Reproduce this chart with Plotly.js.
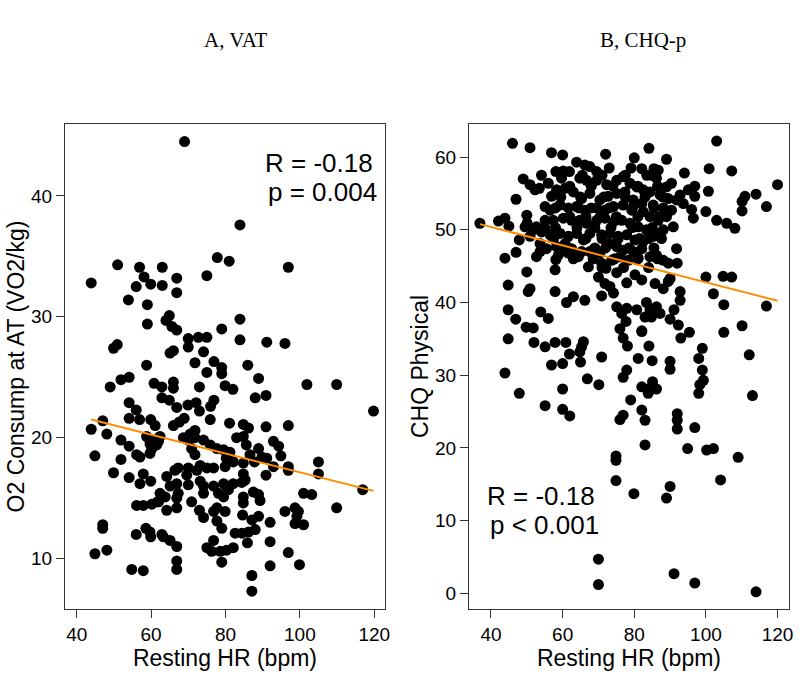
<!DOCTYPE html>
<html>
<head>
<meta charset="utf-8">
<script src="https://cdn.plot.ly/plotly-3.0.1.min.js"></script>
<style>
  html, body { margin: 0; padding: 0; background: #fff; }
  #chart { width: 800px; height: 679px; }
</style>
</head>
<body>
<div id="chart"></div>
<script>
/* global Plotly */

// Panel A: resting HR vs O2 consumption at AT
const vatHr = [
  69.0, 83.9, 77.8, 81.0, 96.9, 51.0, 56.9, 63.0, 43.9, 58.1, 66.9, 75.0, 56.0, 59.9, 63.0, 66.9, 53.9, 59.0, 64.9, 64.0, 59.0, 65.6, 83.9, 66.9, 79.0,
  70.0, 70.0, 72.7, 75.0, 83.9, 91.1, 96.0, 49.9, 50.9, 65.1, 66.0, 74.1, 58.8, 71.8, 76.9, 79.0, 79.0, 75.0, 86.0, 88.9, 51.9, 54.1, 49.0, 60.8, 62.9,
  66.0, 66.0, 73.0, 79.9, 82.0, 101.9, 109.9, 88.0, 90.9, 62.9, 64.9, 66.9, 54.1, 69.9, 72.1, 73.0, 76.0, 76.9, 56.0, 54.1, 56.9, 59.9, 61.1, 66.0, 67.6,
  68.9, 75.9, 81.1, 84.8, 86.2, 90.9, 96.9, 119.8, 43.9, 47.0, 48.1, 71.8, 70.5,
  51.9, 54.1, 56.1, 57.0, 58.8, 59.7, 61.1, 62.0, 62.4, 60.2, 59.7, 61.5, 68.7, 70.0, 71.8, 70.9, 71.8, 74.1, 75.9, 77.7, 79.5, 81.2, 83.0, 84.8, 85.6,
  86.6, 87.8, 88.9, 89.8, 91.1, 92.9, 94.3, 94.9, 92.9, 96.9, 96.9, 44.9, 51.9, 49.9, 54.1, 57.0, 57.9, 59.9, 64.2, 66.4, 67.3, 69.6, 70.0, 72.3, 73.2,
  75.0, 76.8, 79.9, 80.2, 82.1, 84.8, 84.8, 90.9, 105.0, 105.0, 116.9,
  65.1, 66.9, 70.0, 73.2, 74.1, 74.1, 76.8, 78.1, 79.5, 80.3, 79.5, 80.8, 82.1, 84.4, 85.3, 62.4, 63.8, 62.0, 67.3, 66.9, 56.1, 57.9, 60.2, 61.7, 64.2,
  66.9, 70.9, 73.0, 74.1, 76.8, 77.7, 79.9, 84.8, 84.8, 87.5, 88.9, 89.3, 101.0, 103.2, 96.0, 98.7, 99.6, 99.2, 109.9,
  47.0, 47.0, 56.0, 58.6, 59.7, 59.9, 62.9, 63.3, 65.1, 66.9, 77.7, 79.0, 84.6, 87.1, 88.9, 88.0, 86.2, 84.4, 82.6, 92.0, 98.7, 101.0, 92.0, 76.8, 75.0,
  76.3, 78.6, 80.3, 82.1, 85.9, 96.9, 44.9, 48.1, 66.9, 66.9, 79.0, 54.8, 57.9, 92.0, 99.9, 87.1, 87.1
];
const vatO2 = [
  44.5, 37.6, 34.9, 34.6, 34.1, 34.3, 34.1, 34.1, 32.8, 33.3, 33.2, 33.4, 32.5, 32.7, 32.6, 32.0, 31.4, 31.0, 30.1, 29.7, 29.4, 29.2, 29.8, 28.9, 29.0,
  28.2, 27.5, 28.3, 28.3, 28.1, 27.9, 27.8, 27.4, 27.7, 27.0, 27.2, 27.1, 26.0, 26.2, 26.3, 25.8, 25.3, 25.4, 26.0, 24.9, 24.8, 25.0, 24.2, 24.5, 24.2,
  24.6, 24.1, 24.2, 24.3, 24.0, 24.4, 24.4, 23.3, 23.5, 23.3, 23.1, 22.5, 22.9, 22.7, 22.9, 22.2, 22.6, 23.1, 22.3, 21.6, 21.5, 21.5, 21.0, 21.0, 21.3,
  21.6, 21.5, 21.2, 21.1, 20.8, 20.9, 21.0, 22.2, 20.7, 21.4, 20.3, 20.6, 20.3,
  19.8, 19.3, 18.6, 18.4, 20.1, 19.5, 19.8, 19.7, 20.1, 19.1, 18.7, 19.4, 20.0, 19.8, 20.0, 19.1, 18.6, 19.8, 19.4, 19.1, 19.0, 18.8, 20.0, 20.1, 19.4,
  18.6, 18.0, 19.1, 18.4, 18.3, 19.7, 19.3, 18.5, 17.6, 17.6, 17.3, 18.5, 18.2, 17.1, 16.7, 16.2, 17.0, 16.4, 16.8, 17.3, 17.5, 16.9, 17.5, 17.3, 17.7,
  17.5, 17.5, 17.6, 18.3, 18.0, 17.9, 17.0, 16.9, 18.0, 17.0, 15.7,
  16.0, 16.2, 16.1, 16.4, 16.0, 15.4, 16.0, 15.4, 16.2, 16.0, 15.1, 15.7, 16.2, 16.3, 16.5, 15.4, 15.1, 14.7, 15.4, 15.0, 14.4, 14.4, 14.5, 14.7, 14.0,
  14.2, 14.7, 14.0, 13.4, 13.9, 14.2, 13.9, 15.1, 14.6, 15.5, 15.3, 14.8, 15.4, 15.3, 13.9, 14.2, 13.9, 13.5, 14.2,
  12.8, 12.5, 12.0, 12.5, 12.2, 11.8, 12.0, 11.8, 11.5, 11.0, 13.1, 12.5, 13.6, 13.2, 13.5, 12.4, 12.2, 12.1, 12.1, 13.0, 12.9, 12.8, 11.4, 11.5, 10.9,
  10.6, 10.6, 10.7, 10.9, 11.3, 10.5, 10.4, 10.7, 9.8, 9.1, 9.7, 9.1, 9.0, 9.4, 9.5, 8.6, 7.3
];

// Panel B: resting HR vs CHQ physical score
const chqHr = [
  46.0, 50.9, 56.9, 60.0, 72.0, 80.0, 84.1, 89.0, 103.0, 63.9, 66.2, 67.6, 69.5, 73.0, 79.1, 82.1, 85.5, 86.7, 94.0, 100.9, 107.2,
  49.0, 54.1, 50.9, 52.3, 53.5, 56.0, 58.1, 60.2, 61.9, 59.7, 47.0, 56.9, 120.0, 114.0, 110.9, 110.1, 110.1, 116.9,
  96.9, 95.1, 100.7, 96.9, 100.0, 96.0, 96.5, 103.0, 105.8, 108.1, 92.8, 91.8, 93.7, 90.4, 89.0, 86.2, 84.8, 36.9,
  64.8, 66.7, 69.5, 72.3, 75.1, 76.9, 78.8, 80.7, 82.5, 84.4, 87.2, 89.5,
  58.3, 60.7, 63.0, 65.3, 67.6, 70.4, 72.7, 75.1, 77.4, 79.7, 82.1, 85.3, 88.1, 90.4,
  55.1, 56.5, 59.3, 61.6, 63.9, 66.2, 69.5, 71.8, 74.2, 76.9, 79.3, 82.5, 84.4, 86.7, 89.0, 90.9,
  50.0, 50.1, 52.7, 55.1, 57.4, 60.2, 62.5, 64.8, 66.7, 69.5, 71.8, 74.2, 76.5, 78.8, 81.1, 83.4, 86.2, 88.1,
  42.1, 43.9, 45.0, 49.5, 51.8, 54.1, 56.5, 59.3, 61.6, 63.9, 65.8, 67.6, 70.9, 73.2, 75.5, 77.9, 80.2, 82.5, 85.3, 87.6,
  47.9, 50.9, 53.7, 55.5, 58.3, 60.7, 62.5, 64.4, 67.2, 65.3, 67.6, 70.4, 73.2, 75.1, 76.9, 79.7, 82.1, 84.4, 86.2, 88.1, 89.5,
  47.0, 43.9, 52.7, 53.7, 58.8, 59.3, 58.1, 61.6, 70.9, 73.7, 76.0, 78.3, 81.1, 91.8, 92.0,
  50.0, 57.9, 70.0, 72.1, 75.1, 77.9, 80.2, 82.1, 85.8, 88.1, 89.5, 90.0, 44.8, 50.4, 50.9, 57.9, 61.1, 63.0, 66.2, 70.9,
  71.8, 74.2, 73.2, 92.8, 92.8, 102.1, 100.0, 104.8, 107.2, 105.0, 116.9, 44.8, 46.9, 53.9, 56.0, 49.8, 51.8, 75.1, 76.5, 77.7,
  77.9, 80.7, 83.4, 84.4, 86.2, 84.8, 83.0, 87.2, 90.0, 91.1, 92.3, 95.4, 76.0, 82.1, 105.0, 110.1,
  44.8, 52.0, 55.1, 57.9, 60.9, 65.8, 65.3, 64.8, 65.0, 61.9, 56.9, 60.0, 43.9, 47.9, 55.1, 60.0, 60.0, 62.0, 66.9, 70.1,
  70.9, 76.9, 78.1, 82.1, 84.1, 81.1, 85.0, 77.9, 76.9, 82.1, 84.4, 85.1, 86.2, 83.9, 79.0, 82.1, 83.0, 76.0, 76.9, 90.0,
  90.0, 93.0, 99.0, 98.0, 99.0, 99.3, 98.3, 98.0, 112.1, 113.0, 92.0, 92.0, 92.0, 96.9, 83.0, 94.9, 100.2, 102.1, 109.0, 74.9,
  74.9, 74.9, 79.9, 90.0, 89.0, 104.1, 70.0, 70.0, 91.1, 96.9, 114.0,
  // overlapping points inside the dense cluster
  65.5, 71.0, 77.5, 83.5, 62.0, 68.0, 74.0, 81.0, 86.5, 59.5, 65.0, 71.5, 77.5, 83.0, 88.0, 58.0, 64.5, 68.0, 73.0, 79.5, 85.5,
  62.0, 66.5, 70.5, 75.0, 81.0, 87.0, 55.0, 58.0, 64.0, 69.0, 73.5, 79.5, 85.0, 57.5, 66.5, 71.0, 75.5, 81.5, 84.0,
  61.0, 69.0, 72.0, 78.5, 85.5, 63.0, 68.5, 74.5, 81.0, 86.5, 71.0, 77.0, 84.0
];
const chqPhys = [
  61.9, 61.3, 60.6, 60.3, 60.4, 59.9, 61.2, 59.7, 62.2, 59.3, 58.9, 58.7, 58.0, 58.5, 58.5, 58.4, 58.4, 58.2, 57.8, 58.4, 58.1,
  57.0, 57.5, 56.2, 55.5, 55.7, 56.4, 58.0, 58.1, 58.0, 57.1, 54.2, 54.6, 56.2, 54.9, 54.6, 53.9, 52.6, 53.2,
  56.0, 55.5, 55.3, 54.6, 52.5, 52.8, 51.6, 51.3, 50.9, 50.2, 54.8, 54.1, 53.6, 56.4, 55.9, 57.1, 57.5, 50.9,
  57.1, 56.8, 56.8, 56.2, 56.8, 57.3, 56.4, 55.9, 55.5, 55.2, 54.8, 54.3,
  55.5, 55.7, 55.2, 54.3, 55.0, 54.1, 54.6, 55.0, 55.2, 54.1, 53.6, 53.4, 53.0, 52.7,
  53.2, 52.7, 53.4, 53.0, 53.2, 52.7, 53.0, 52.7, 53.2, 53.4, 52.7, 52.5, 51.8, 51.3, 51.8, 50.4,
  52.0, 50.9, 50.4, 51.3, 51.3, 51.6, 51.3, 51.3, 50.9, 51.3, 51.6, 51.1, 51.3, 50.9, 50.4, 50.0, 49.5, 50.0,
  51.2, 51.6, 50.5, 50.4, 50.0, 49.7, 49.3, 49.5, 49.1, 49.5, 48.6, 49.5, 49.3, 49.5, 49.1, 49.3, 48.6, 48.4, 49.1, 48.8,
  48.6, 49.1, 48.1, 47.4, 47.7, 48.1, 47.4, 46.3, 44.9, 47.0, 47.0, 46.8, 48.1, 47.7, 47.2, 47.0, 47.4, 46.3, 46.5, 45.8, 45.4,
  46.9, 46.1, 46.3, 47.0, 46.5, 47.0, 45.9, 46.8, 45.4, 45.8, 46.3, 45.8, 46.1, 47.4, 45.4,
  44.2, 44.5, 43.5, 44.7, 44.1, 42.7, 43.8, 43.1, 42.6, 41.9, 42.9, 43.3, 42.4, 41.5, 41.9, 41.5, 40.0, 40.8, 40.3, 40.9,
  42.6, 41.3, 42.2, 41.5, 40.3, 41.2, 43.5, 43.6, 43.5, 39.7, 39.5, 39.0, 37.7, 38.7, 37.8, 36.6, 36.5, 39.4, 38.5, 37.4,
  39.2, 39.0, 40.0, 39.0, 39.4, 38.0, 38.0, 38.5, 37.7, 39.0, 36.9, 35.9, 36.4, 36.1, 35.9, 36.8,
  35.0, 34.5, 33.9, 34.5, 34.5, 34.6, 33.9, 33.2, 31.8, 32.9, 31.4, 31.6, 30.3, 27.5, 25.8, 28.1, 25.3, 24.4, 29.5, 28.7,
  32.5, 35.1, 34.0, 36.0, 34.0, 32.3, 32.0, 30.7, 29.7, 28.4, 28.2, 29.1, 28.1, 27.5, 26.6, 25.2, 23.8, 23.9, 24.5, 31.9,
  30.8, 35.1, 33.7, 32.3, 30.7, 29.3, 28.7, 27.5, 32.8, 27.2, 24.7, 23.8, 22.6, 22.8, 20.4, 19.9, 19.7, 19.9, 18.7, 18.9,
  18.3, 15.5, 13.7, 14.7, 13.1, 15.6, 4.7, 1.2, 2.7, 1.4, 0.2,
  // overlapping points inside the dense cluster
  57.5, 57.5, 57.5, 57.5, 56.0, 56.0, 56.0, 56.0, 56.0, 54.5, 54.5, 54.5, 54.5, 54.5, 54.5, 53.0, 53.0, 53.0, 53.0, 53.0, 53.0,
  51.8, 51.8, 51.8, 51.8, 51.8, 51.8, 50.3, 50.3, 50.3, 50.3, 50.3, 50.3, 50.3, 48.8, 48.8, 48.8, 48.8, 48.8, 48.8,
  47.5, 47.5, 47.5, 47.5, 47.5, 46.0, 46.0, 46.0, 46.0, 46.0, 44.8, 44.8, 44.8
];

// fitted lines: [intercept, slope]
const vatFit = [24.92, -0.0778];
const chqFit = [55.45, -0.1267];

const xTicks = [40, 60, 80, 100, 120];
const vatTicks = [10, 20, 30, 40];
const chqTicks = [0, 10, 20, 30, 40, 50, 60];

const FONT = "Liberation Sans, Arial, sans-serif";
const SERIF = "Liberation Serif, Times New Roman, serif";

function fitLine(xs, coef, xa, ya) {
  const lo = Math.min(...xs);
  const hi = Math.max(...xs);
  return {
    x: [lo, hi],
    y: [coef[0] + coef[1] * lo, coef[0] + coef[1] * hi],
    xaxis: xa,
    yaxis: ya,
    type: "scatter",
    mode: "lines",
    line: { color: "#ff8c00", width: 2 },
    hoverinfo: "skip",
  };
}

function dots(xs, ys, xa, ya) {
  return {
    x: xs,
    y: ys,
    xaxis: xa,
    yaxis: ya,
    type: "scatter",
    mode: "markers",
    marker: { color: "#000", size: 11 },
  };
}

const axisBase = {
  showline: true,
  mirror: true,
  linecolor: "#333",
  linewidth: 1,
  showgrid: false,
  zeroline: false,
  ticks: "outside",
  ticklen: 8,
  tickcolor: "#333",
  tickfont: { family: FONT, size: 19, color: "#000" },
};

const titleFont = { family: FONT, size: 23, color: "#000" };
const statFont = { family: FONT, size: 26, color: "#000" };
const panelFont = { family: SERIF, size: 21, color: "#000" };

const traces = [
  dots(vatHr, vatO2, "x", "y"),
  fitLine(vatHr, vatFit, "x", "y"),
  dots(chqHr, chqPhys, "x2", "y2"),
  fitLine(chqHr, chqFit, "x2", "y2"),
];

const layout = {
  width: 800,
  height: 679,
  margin: { l: 65, r: 11, t: 124, b: 70 },
  paper_bgcolor: "#fff",
  plot_bgcolor: "#fff",
  showlegend: false,
  xaxis: {
    ...axisBase,
    domain: [0, 0.442],
    range: [36.85, 122.9],
    tickvals: xTicks,
    anchor: "y",
    title: { text: "Resting HR (bpm)", font: titleFont, standoff: 5 },
  },
  yaxis: {
    ...axisBase,
    domain: [0, 1],
    range: [5.83, 45.95],
    tickvals: vatTicks,
    anchor: "x",
    title: { text: "O2 Consump at AT (VO2/kg)", font: titleFont, standoff: 0 },
  },
  xaxis2: {
    ...axisBase,
    domain: [0.558, 1],
    range: [33.86, 123.2],
    tickvals: xTicks,
    anchor: "y2",
    title: { text: "Resting HR (bpm)", font: titleFont, standoff: 5 },
  },
  yaxis2: {
    ...axisBase,
    domain: [0, 1],
    range: [-2.16, 64.55],
    tickvals: chqTicks,
    anchor: "x2",
    title: { text: "CHQ Physical", font: titleFont, standoff: 0 },
  },
  annotations: [
    { text: "A, VAT", xref: "paper", yref: "paper", x: 0.236, y: 1.173,
      xanchor: "center", yanchor: "middle", showarrow: false, font: panelFont },
    { text: "B, CHQ-p", xref: "paper", yref: "paper", x: 0.798, y: 1.173,
      xanchor: "center", yanchor: "middle", showarrow: false, font: panelFont },
    { text: "R = -0.18", xref: "x", yref: "y", x: 105.2, y: 42.7, showarrow: false, font: statFont },
    { text: "p = 0.004", xref: "x", yref: "y", x: 106.0, y: 40.3, showarrow: false, font: statFont },
    { text: "R = -0.18", xref: "x2", yref: "y2", x: 54.0, y: 13.4, showarrow: false, font: statFont },
    { text: "p &lt; 0.001", xref: "x2", yref: "y2", x: 54.8, y: 9.4, showarrow: false, font: statFont },
  ],
};

Plotly.newPlot("chart", traces, layout, { displayModeBar: false, staticPlot: true });
</script>
</body>
</html>
